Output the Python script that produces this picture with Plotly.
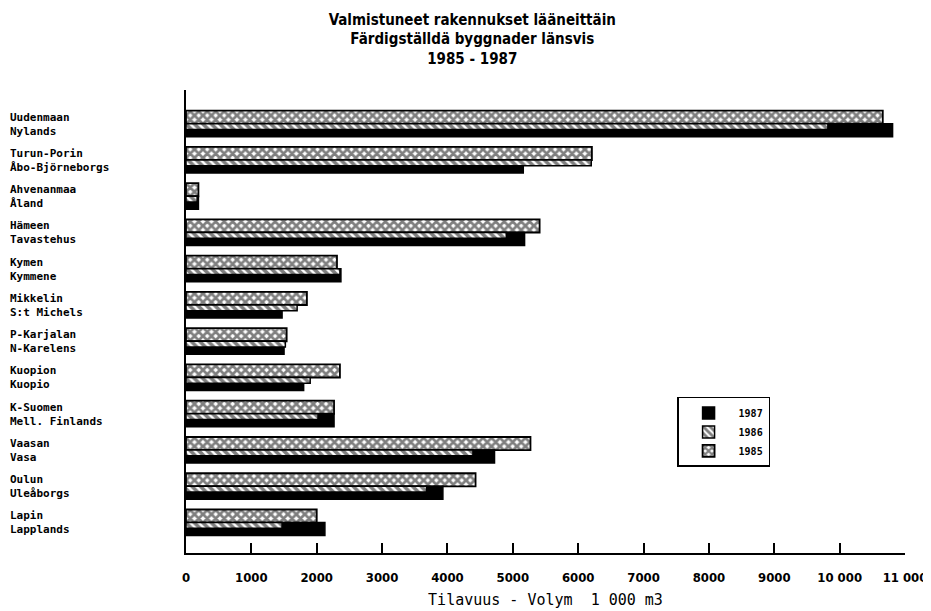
import plotly.graph_objects as go

# --- data -------------------------------------------------------------
regions_fi = ["Uudenmaan", "Turun-Porin", "Ahvenanmaa", "Hämeen", "Kymen",
              "Mikkelin", "P-Karjalan", "Kuopion", "K-Suomen", "Vaasan",
              "Oulun", "Lapin"]
regions_sv = ["Nylands", "Åbo-Björneborgs", "Åland", "Tavastehus", "Kymmene",
              "S:t Michels", "N-Karelens", "Kuopio", "Mell. Finlands", "Vasa",
              "Uleåborgs", "Lapplands"]

v1985 = [10660, 6210, 190, 5410, 2310, 1850, 1540, 2355, 2265, 5270, 4430, 2000]
v1986 = [9820, 6200, 170, 4900, 2355, 1700, 1520, 1900, 2020, 4390, 3680, 1470]
v1987 = [10810, 5160, 190, 5180, 2370, 1470, 1500, 1800, 2265, 4720, 3930, 2125]

tick_vals = [0, 1000, 2000, 3000, 4000, 5000, 6000, 7000, 8000, 9000, 10000, 11000]
tick_text = ["0", "1000", "2000", "3000", "4000", "5000", "6000", "7000",
             "8000", "9000", "10 000", "11 000"]

title_lines = ["Valmistuneet rakennukset lääneittäin",
               "Färdigställdä byggnader länsvis",
               "1985 - 1987"]
x_title = "Tilavuus - Volym  1 000 m3"

# --- figure -----------------------------------------------------------
cats = [f"{a}<br>{b}" for a, b in zip(regions_fi, regions_sv)]

LABEL_FONT = dict(family="DejaVu Sans Mono", size=11, color="black", weight="bold")
COND = "DejaVu Sans Condensed, Liberation Sans, sans-serif"

fig = go.Figure()
fig.add_trace(go.Bar(
    y=cats, x=v1985, orientation="h", name="1985",
    offset=-0.37, width=0.36, legendrank=3,
    marker=dict(color="white", line=dict(color="black", width=1.8),
                pattern=dict(shape="x", fgcolor="black", bgcolor="white",
                             size=6, solidity=0.7)),
))
fig.add_trace(go.Bar(
    y=cats, x=v1987, orientation="h", name="1987",
    offset=-0.01, width=0.36, legendrank=1,
    marker=dict(color="black", line=dict(color="black", width=1.5)),
))
fig.add_trace(go.Bar(
    y=cats, x=v1986, orientation="h", name="1986",
    offset=-0.01, width=0.16, legendrank=2,
    marker=dict(color="white", line=dict(color="black", width=1.5),
                pattern=dict(shape="\\", fgcolor="black", bgcolor="white",
                             size=6, solidity=0.6)),
))

for c in cats:
    fig.add_annotation(x=-0.248, xref="paper", y=c, yref="y", text=c,
                       showarrow=False, xanchor="left", align="left",
                       font=LABEL_FONT)

# page has an 8px body margin: figure is sized 8px smaller to fit the window
fig.update_layout(
    width=923, height=603,
    margin=dict(l=178, r=26, t=82, b=58),
    paper_bgcolor="white", plot_bgcolor="white",
    barmode="overlay",
    showlegend=True,
    title=dict(text="<br>".join(title_lines), x=0.503, xanchor="center",
               y=0.972, yanchor="middle",
               font=dict(family=COND, size=15, color="black", weight="bold")),
    legend=dict(x=0.683, xanchor="left", y=0.337, yanchor="top",
                bordercolor="black", borderwidth=1.5, bgcolor="white",
                font=dict(family="DejaVu Sans Mono", size=10, color="black",
                          weight="bold"),
                itemwidth=50, tracegroupgap=0),
    font=dict(family=COND, color="black"),
)

fig.update_xaxes(
    range=[0, 11000], tickvals=tick_vals, ticktext=tick_text,
    ticks="inside", ticklen=10, tickcolor="black", tickwidth=1.5,
    showline=True, linecolor="black", linewidth=1.5,
    showgrid=False, zeroline=False, ticklabelstandoff=12,
    tickfont=dict(family=COND, size=13, color="black", weight="bold"),
    title=dict(text=x_title, standoff=10,
               font=dict(family="DejaVu Sans Mono", size=15, color="black")),
    automargin=False,
)
fig.update_yaxes(
    range=[11.83, -0.94], showticklabels=False, ticks="",
    showline=True, linecolor="black", linewidth=1.5,
    showgrid=False, zeroline=False, automargin=False,
)

fig.write_html("out.html")
